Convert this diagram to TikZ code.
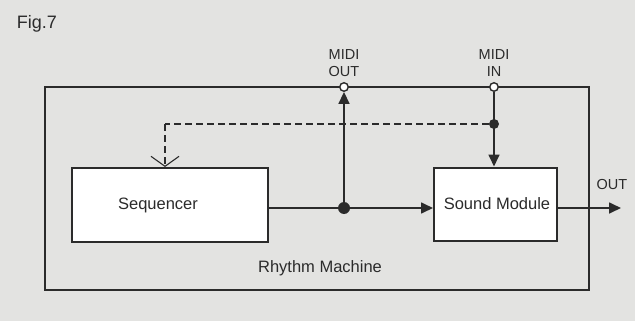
\documentclass[tikz,border=0pt]{standalone}
\usepackage{fontspec}
\setmainfont{Liberation Sans}
\usetikzlibrary{arrows.meta}
\definecolor{bg}{HTML}{E3E3E1}
\definecolor{ink}{HTML}{2B2B2B}
\tikzset{
  blk/.style={draw=ink, line width=2pt, fill=white, inner sep=0pt},
  wire/.style={draw=ink, line width=1.7pt},
  arr/.style={wire, -{Triangle[length=12pt,width=11pt]}},
  port/.style={circle, draw=ink, line width=1.4pt, fill=white, minimum size=8.5pt, inner sep=0pt},
  junc/.style={circle, fill=ink, minimum size=#1, inner sep=0pt},
  lbl/.style={text=ink, font=\fontsize{14.5}{16.5}\selectfont, align=center, inner sep=0pt},
  big/.style={text=ink, font=\fontsize{16.5}{18}\selectfont, inner sep=0pt}
}
\begin{document}
\begin{tikzpicture}[x=1pt,y=-1pt]
\fill[bg] (0,0) rectangle (635,321);
\useasboundingbox (0,0) rectangle (635,321);
% outer frame
\draw[ink, line width=1.7pt] (45,87) rectangle (589,290);
\node[text=ink, font=\fontsize{18}{20}\selectfont, inner sep=0pt] (fig) at (37,24) {Fig.7};
\node[big] (rm) at (320,268) {Rhythm Machine};
% blocks
\node[blk, minimum width=196pt, minimum height=74pt] (seq) at (170,205) {};
\node[big] at (158,205) {Sequencer};
\node[blk, minimum width=123pt, minimum height=73pt] (snd) at (495.5,204) {};
\node[big] at (497,204) {Sound Module};
% ports
\node[port] (mout) at (344,87) {};
\node[port] (min) at (494,87) {};
\node[lbl] (moutl) at (344,63) {MIDI\\OUT};
\node[lbl] (minl) at (494,63) {MIDI\\IN};
% junctions
\node[junc=12pt] (j1) at (344,208) {};
\node[junc=10pt] (j2) at (494,124) {};
\coordinate (dc) at (165,124);
\coordinate (outend) at (621,208);
\node[lbl] (outl) at (612,185) {OUT};
% wires
\draw[wire] (seq.east |- j1) -- (j1);
\draw[arr] (j1) -- (snd.west |- j1);
\draw[arr] (j1) -- (mout);
\draw[arr] (min) -- (snd.north -| min);
\draw[arr] (snd.east |- j1) -- (outend);
\draw[ink, line width=1.2pt, dash pattern=on 7pt off 4pt] (j2) -- (dc);
\draw[ink, line width=1.2pt, dash pattern=on 7pt off 4pt, -{Straight Barb[length=10pt,width=28pt,line width=1.1pt]}] (dc) -- (seq.north -| dc);
\end{tikzpicture}
\end{document}
